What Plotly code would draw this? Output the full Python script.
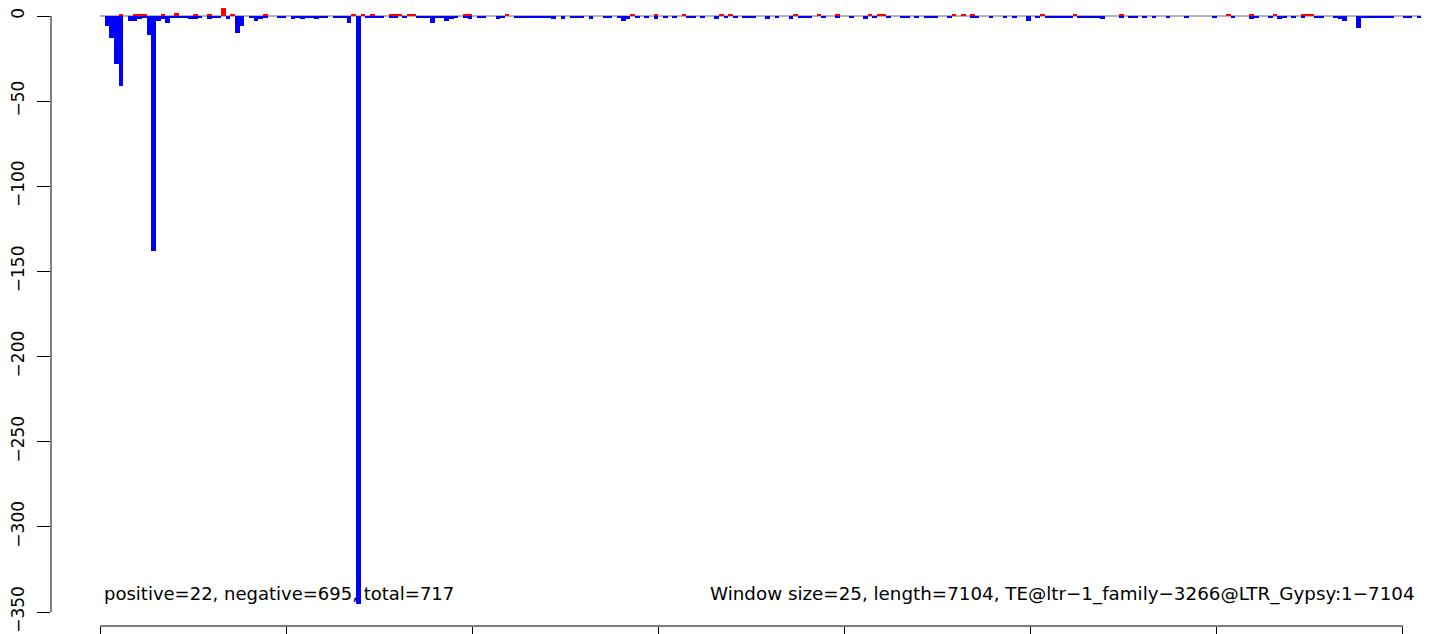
import plotly.graph_objects as go

# window size (bp) used for binning reads along the TE
WINDOW = 25

# minus strand read counts per window (window index, value)
neg_win = [1, 2, 3, 4, 6, 7, 8, 9, 10, 11,
           12, 13, 14, 15, 16, 17, 18, 19, 20, 21,
           23, 24, 25, 27, 29, 30, 32, 33, 34, 35,
           38, 39, 41, 42, 43, 44, 45, 46, 47, 48,
           50, 51, 52, 53, 55, 57, 58, 59, 60, 62,
           63, 65, 68, 69, 70, 71, 72, 73, 74, 75,
           76, 78, 79, 81, 82, 85, 86, 89, 90, 91,
           92, 93, 94, 95, 96, 97, 99,
           101, 102, 103, 105, 108, 109, 111, 112, 113, 115,
           117, 119, 121, 123, 126, 127, 129, 132, 134, 136,
           138, 139, 140, 143, 145, 148, 150, 151, 152, 155,
           158, 161, 164, 166, 169, 172, 173, 175, 177, 178,
           179, 182, 187, 188, 191, 194, 196, 199, 201, 203,
           204, 205, 206, 207, 208, 210, 211, 212, 213, 214,
           215, 219, 221, 222, 224, 226, 229, 233, 239, 243,
           247, 248, 251, 253, 254, 256, 258, 261, 262, 265,
           266, 267, 270, 271, 272, 273, 274, 275, 276, 277,
           280, 281, 283, 284]
neg_val = [-6, -13, -28, -41, -3, -3, -2, -1, -11, -138,
           -3, -2, -4, -1, -1, -1, -1, -2, -2, -1,
           -2, -1, -1, -2, -10, -6, -1, -3, -2, -1,
           -1, -1, -2, -1, -2, -1, -1, -2, -1, -1,
           -1, -1, -1, -4, -345, -1, -1, -1, -1, -1,
           -1, -1, -1, -1, -1, -4, -1, -1, -3, -2,
           -1, -1, -2, -1, -1, -2, -1, -1, -1, -1,
           -1, -1, -1, -1, -1, -2, -2,
           -1, -1, -1, -2, -1, -1, -1, -3, -2, -1,
           -1, -2, -1, -1, -1, -1, -1, -2, -1, -1,
           -1, -1, -1, -2, -1, -2, -1, -1, -1, -1,
           -1, -1, -2, -1, -1, -1, -1, -1, -1, -1,
           -1, -1, -1, -1, -1, -1, -1, -3, -1, -1,
           -1, -1, -1, -1, -1, -1, -1, -1, -1, -1,
           -2, -1, -1, -1, -1, -1, -1, -1, -1, -1,
           -2, -1, -1, -2, -1, -1, -1, -1, -1, -1,
           -2, -3, -7, -1, -1, -1, -1, -1, -1, -1,
           -1, -1, -1, -1]

# plus strand read counts per window
pos_win = [4, 7, 8, 9, 13, 16, 20, 23, 26, 28,
           35, 54, 56, 58, 62, 63, 64, 66, 67, 78,
           79, 87, 114, 119, 125, 133, 135, 149, 154, 158,
           165, 167, 168, 183, 185, 187, 202, 209, 219, 242,
           247, 252, 258, 259, 260]
pos_val = [1, 1, 1, 1, 1, 2, 1, 1, 7, 1,
           1, 1, 1, 1, 1, 1, 1, 1, 1, 1,
           1, 1, 1, 1, 1, 1, 1, 1, 1, 1,
           1, 1, 1, 1, 1, 1, 1, 1, 1, 1,
           1, 1, 1, 1, 1]

te_length = 7104
x_ticks = [0, 1000, 2000, 3000, 4000, 5000, 6000, 7000]
y_ticks = [0, -50, -100, -150, -200, -250, -300, -350]
y_ticktext = ['0' if v == 0 else '\u2212' + str(-v) for v in y_ticks]

left_label = 'positive=22, negative=695, total=717'
right_label = 'Window size=25, length=7104, TE@ltr\u22121_family\u22123266@LTR_Gypsy:1\u22127104'

fig = go.Figure()

fig.add_trace(go.Bar(
    x=[w * WINDOW for w in neg_win], y=neg_val,
    width=WINDOW, offset=0,
    marker=dict(color='#0000ff', line_width=0),
    showlegend=False))

fig.add_trace(go.Bar(
    x=[w * WINDOW for w in pos_win], y=pos_val,
    width=WINDOW, offset=0, cliponaxis=False,
    marker=dict(color='#ff0000', line_width=0),
    showlegend=False))

# zero line, y axis line and x axis line (R style: only spanning the ticks)
fig.add_shape(type='line', xref='x', yref='y', x0=0, x1=te_length, y0=0, y1=0,
              line=dict(color='#9a9a9a', width=1.5), layer='below')
fig.add_shape(type='line', xref='paper', yref='y', x0=0, x1=0, y0=y_ticks[0], y1=y_ticks[-1],
              line=dict(color='black', width=1))
fig.add_shape(type='line', xref='x', yref='paper', x0=x_ticks[0], x1=x_ticks[-1], y0=0, y1=0,
              line=dict(color='black', width=1))

fig.add_annotation(x=10, y=-339.4, xref='x', yref='y', text=left_label,
                   showarrow=False, xanchor='left', yanchor='middle',
                   font=dict(family='DejaVu Sans', size=18, color='black'))
fig.add_annotation(x=3266, y=-339.4, xref='x', yref='y', text=right_label,
                   showarrow=False, xanchor='left', yanchor='middle',
                   font=dict(family='DejaVu Sans', size=18.3, color='black'))

# page body has an 8px margin, so the figure is 8px smaller than the window
fig.update_layout(
    width=1421, height=626,
    margin=dict(l=43, r=0, t=0, b=8),
    plot_bgcolor='white', paper_bgcolor='white',
    barmode='overlay', bargap=0,
    font=dict(family='DejaVu Sans', color='black'),
)
fig.update_xaxes(range=[-263.3, 7140.2], showgrid=False, zeroline=False, showline=False,
                 tickvals=x_ticks, ticks='outside', ticklen=12, tickcolor='black',
                 showticklabels=False, automargin=False)
fig.update_yaxes(range=[-358.2, 4.7], showgrid=False, zeroline=False, showline=False,
                 tickvals=y_ticks, ticktext=y_ticktext, ticks='outside', ticklen=13,
                 tickcolor='black', tickangle=-90, ticklabelstandoff=6,
                 tickfont=dict(family='DejaVu Sans', size=17, color='black'),
                 automargin=False)

fig.write_html("out.html")
